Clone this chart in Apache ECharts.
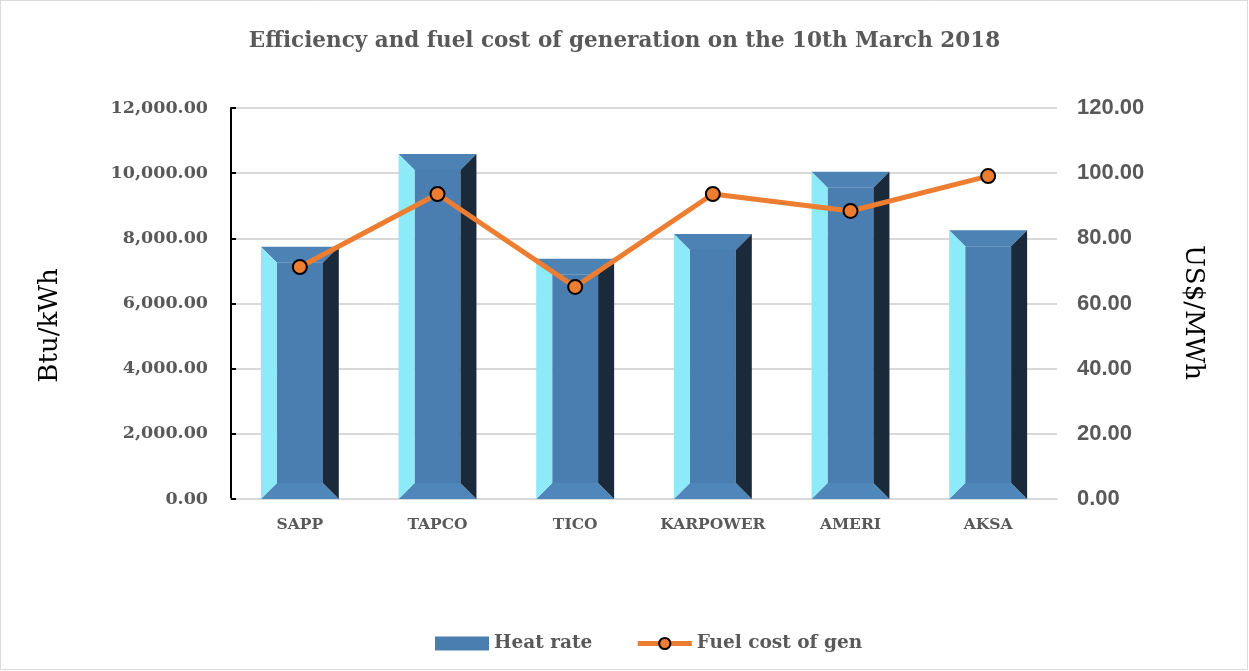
<!DOCTYPE html>
<html>
<head>
<meta charset="utf-8">
<title>Efficiency and fuel cost of generation</title>
<script src="https://cdn.jsdelivr.net/npm/echarts@6/dist/echarts.min.js"></script>
<style>
    html, body { margin: 0; padding: 0; background: #fff; }
    #myEchart { width: 1249px; height: 671px; }
</style>
</head>
<body>
<div id="myEchart"></div>
<script>
var categories = ['SAPP', 'TAPCO', 'TICO', 'KARPOWER', 'AMERI', 'AKSA'];
var heatRate = [7740, 10590, 7370, 8130, 10040, 8250];
var fuelCost = [71.2, 93.6, 65.1, 93.6, 88.4, 99.1];
var leftTicks = [0, 2000, 4000, 6000, 8000, 10000, 12000];
var rightTicks = [0, 20, 40, 60, 80, 100, 120];

var serif = 'DejaVu Serif';
var grey = '#595959';

// 柱子的斜面效果
function renderBar(params, api) {
    var base = api.coord([api.value(0), 0]);
    var top = api.coord([api.value(0), api.value(1)]);
    var w = api.size([1, 0])[0] * 0.566;
    var l = top[0] - w / 2, r = top[0] + w / 2, t = top[1], b = base[1];
    var k = 16;
    function poly(points, color) {
        return { type: 'polygon', shape: { points: points }, style: { fill: color } };
    }
    return {
        type: 'group',
        children: [
            poly([[l + k, t + k], [r - k, t + k], [r - k, b - k], [l + k, b - k]], '#4A7EB0'),
            poly([[l, t], [r, t], [r - k, t + k], [l + k, t + k]], '#4D82B4'),
            poly([[l, b], [r, b], [r - k, b - k], [l + k, b - k]], '#5087BA'),
            poly([[l, t], [l + k, t + k], [l + k, b - k], [l, b]], '#8CEAF9'),
            poly([[r, t], [r, b], [r - k, b - k], [r - k, t + k]], '#1B2A3A')
        ]
    };
}

function fmt(v) {
    return v.toLocaleString('en-US', { minimumFractionDigits: 2, maximumFractionDigits: 2 });
}

var barData = [];
for (var i = 0; i < heatRate.length; i++) {
    barData.push([i, heatRate[i]]);
}

var chart = echarts.init(document.getElementById('myEchart'));
var option = {
    animation: false,
    title: {
        text: 'Efficiency and fuel cost of generation on the 10th March 2018',
        left: 'center',
        top: 25,
        textStyle: { fontFamily: serif, fontSize: 21.5, fontWeight: 'bold', color: grey }
    },
    legend: {
        left: 430,
        top: 629,
        itemWidth: 54,
        itemHeight: 14,
        itemGap: 43,
        textStyle: { fontFamily: serif, fontSize: 18.5, fontWeight: 'bold', color: grey },
        data: [
            { name: 'Heat rate', icon: 'rect' },
            { name: 'Fuel cost of gen', lineStyle: { width: 5 } }
        ]
    },
    grid: {
        left: 231,
        right: 192,
        top: 108,
        bottom: 172
    },
    graphic: [{
        type: 'rect',
        shape: { x: 0.5, y: 0.5, width: 1247, height: 669 },
        style: { fill: 'none', stroke: '#d9d9d9', lineWidth: 1 }
    }],
    xAxis: {
        type: 'category',
        data: categories,
        axisLine: { lineStyle: { color: '#d9d9d9', width: 2 } },
        axisTick: { show: true, alignWithLabel: true, inside: true, length: 5, lineStyle: { color: '#d9d9d9' } },
        axisLabel: { interval: 0, margin: 18, fontFamily: serif, fontSize: 15.5, fontWeight: 'bold', color: grey }
    },
    yAxis: [
        {
            type: 'value',
            min: leftTicks[0],
            max: leftTicks[leftTicks.length - 1],
            interval: leftTicks[1] - leftTicks[0],
            name: 'Btu/kWh',
            nameLocation: 'middle',
            nameGap: 168,
            nameRotate: 90,
            nameTextStyle: { fontFamily: serif, fontSize: 26, color: '#000', padding: [0, 44, 0, 0] },
            axisLine: { show: true, lineStyle: { color: '#000', width: 2 } },
            axisTick: { show: true, inside: true, length: 5, lineStyle: { color: '#000', width: 2 } },
            axisLabel: {
                margin: 23,
                fontFamily: serif, fontSize: 17.5, fontWeight: 'bold', color: grey,
                formatter: fmt
            },
            splitLine: { lineStyle: { color: '#d9d9d9', width: 2 } }
        },
        {
            type: 'value',
            min: rightTicks[0],
            max: rightTicks[rightTicks.length - 1],
            interval: rightTicks[1] - rightTicks[0],
            name: 'US$/MWh',
            nameLocation: 'middle',
            nameGap: 123,
            nameRotate: -90,
            nameTextStyle: { fontFamily: serif, fontSize: 26, color: '#000', padding: [0, 0, 0, 18] },
            axisLine: { show: false },
            axisTick: { show: false },
            axisLabel: {
                margin: 20,
                fontFamily: 'Liberation Sans', fontSize: 22, fontWeight: 'bold', color: grey,
                formatter: fmt
            },
            splitLine: { show: false }
        }
    ],
    series: [
        {
            name: 'Heat rate',
            type: 'custom',
            renderItem: renderBar,
            itemStyle: { color: '#4A7EB0' },
            encode: { x: 0, y: 1 },
            data: barData,
            z: 2
        },
        {
            name: 'Fuel cost of gen',
            type: 'line',
            yAxisIndex: 1,
            data: fuelCost,
            symbol: 'circle',
            symbolSize: 14,
            lineStyle: { color: '#ED7D31', width: 5 },
            itemStyle: { color: '#ED7D31', borderColor: '#000', borderWidth: 2 },
            z: 3
        }
    ]
};
chart.setOption(option);
</script>
</body>
</html>
